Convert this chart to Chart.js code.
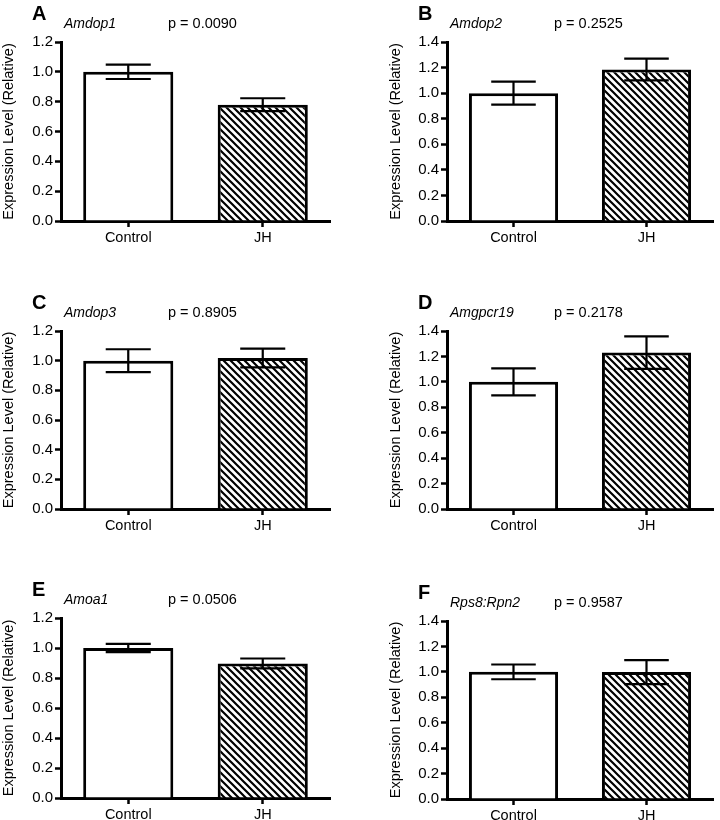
<!DOCTYPE html>
<html>
<head>
<meta charset="utf-8">
<script src="https://cdn.jsdelivr.net/npm/chart.js@4.4.1/dist/chart.umd.min.js"></script>
<style>
  body { margin: 0; background: #fff; overflow: hidden; }
  #wrap { position: relative; width: 720px; height: 820px; overflow: hidden; }
  canvas { position: absolute; }
</style>
</head>
<body>
<div id="wrap"></div>
<script>
const panelLetters = ['A', 'B', 'C', 'D', 'E', 'F'];
const geneNames = ['Amdop1', 'Amdop2', 'Amdop3', 'Amgpcr19', 'Amoa1', 'Rps8:Rpn2'];
const pValues = ['0.0090', '0.2525', '0.8905', '0.2178', '0.0506', '0.9587'];
const groups = ['Control', 'JH'];
const controlMeans = [1.00, 1.00, 1.00, 1.00, 1.00, 1.00];
const controlSem = [0.048, 0.090, 0.077, 0.106, 0.028, 0.058];
const jhMeans = [0.78, 1.185, 1.018, 1.23, 0.897, 0.998];
const jhSem = [0.043, 0.085, 0.063, 0.128, 0.033, 0.095];
const yMax = [1.2, 1.4, 1.2, 1.4, 1.2, 1.4];

// where each panel sits on the page (canvas box + plot area)
const boxes = [
    { left: 0,   top: 0,   h: 270, plotL: 61,  plotR: 330, plotT: 42,  plotB: 221, axisW: 61 },
    { left: 360, top: 0,   h: 270, plotL: 447, plotR: 713, plotT: 42,  plotB: 221, axisW: 60 },
    { left: 0,   top: 270, h: 275, plotL: 61,  plotR: 330, plotT: 331, plotB: 509, axisW: 61 },
    { left: 360, top: 270, h: 275, plotL: 447, plotR: 713, plotT: 331, plotB: 509, axisW: 60 },
    { left: 0,   top: 545, h: 285, plotL: 61,  plotR: 330, plotT: 618, plotB: 798, axisW: 61 },
    { left: 360, top: 545, h: 285, plotL: 447, plotR: 713, plotT: 621, plotB: 799, axisW: 60 }
];

const FONT = '"Liberation Sans", Arial, sans-serif';
const X_AXIS_H = 28;

function makeHatch() {
    const s = 7;
    const c = document.createElement('canvas');
    c.width = s; c.height = s;
    const g = c.getContext('2d');
    g.fillStyle = '#fff';
    g.fillRect(0, 0, s, s);
    g.strokeStyle = '#000';
    g.lineWidth = 2.2;
    g.beginPath();
    g.moveTo(-1, -1); g.lineTo(s + 1, s + 1);
    g.moveTo(-1, s - 1); g.lineTo(1, s + 1);
    g.moveTo(s - 1, -1); g.lineTo(s + 1, 1);
    g.stroke();
    return g.createPattern(c, 'repeat');
}
const hatch = makeHatch();

// SEM whiskers on top of each bar
const errorBars = {
    id: 'errorBars',
    afterDatasetsDraw(chart) {
        const ctx = chart.ctx;
        const yScale = chart.scales.y;
        ctx.save();
        ctx.strokeStyle = '#000';
        ctx.lineWidth = 2.2;
        chart.data.datasets.forEach((ds, di) => {
            chart.getDatasetMeta(di).data.forEach((bar, i) => {
                const m = ds.data[i], e = ds.errors[i];
                const yTop = yScale.getPixelForValue(m + e);
                const yBot = yScale.getPixelForValue(m - e);
                const half = bar.width / 4;
                ctx.beginPath();
                ctx.moveTo(bar.x, yTop); ctx.lineTo(bar.x, yBot);
                ctx.moveTo(bar.x - half, yTop); ctx.lineTo(bar.x + half, yTop);
                ctx.moveTo(bar.x - half, yBot); ctx.lineTo(bar.x + half, yBot);
                ctx.stroke();
            });
        });
        ctx.restore();
    }
};

// panel letter, gene name (italic) and p value above the plot
const headerText = {
    id: 'headerText',
    afterDraw(chart, args, opts) {
        const { ctx, chartArea } = chart;
        ctx.save();
        ctx.fillStyle = '#000';
        ctx.textBaseline = 'alphabetic';
        ctx.textAlign = 'left';
        ctx.font = 'bold 20px ' + FONT;
        ctx.fillText(opts.letter, chartArea.left - 29, chartArea.top - 22);
        ctx.font = 'italic 14px ' + FONT;
        ctx.fillText(opts.gene, chartArea.left + 3, chartArea.top - 14);
        ctx.font = '14.5px ' + FONT;
        ctx.fillText('p = ' + opts.p, chartArea.left + 107, chartArea.top - 14);
        ctx.restore();
    }
};

const wrap = document.getElementById('wrap');

panelLetters.forEach((letter, k) => {
    const b = boxes[k];
    const canvas = document.createElement('canvas');
    canvas.width = 360; canvas.height = b.h;
    canvas.style.left = b.left + 'px';
    canvas.style.top = b.top + 'px';
    canvas.style.width = '360px';
    canvas.style.height = b.h + 'px';
    wrap.appendChild(canvas);

    new Chart(canvas.getContext('2d'), {
        type: 'bar',
        data: {
            labels: groups,
            datasets: [{
                data: [controlMeans[k], jhMeans[k]],
                errors: [controlSem[k], jhSem[k]],
                backgroundColor: ['#fff', hatch],
                borderColor: '#000',
                borderWidth: 3,
                borderSkipped: 'bottom',
                barPercentage: 0.67,
                categoryPercentage: 1.0
            }]
        },
        options: {
            responsive: false,
            animation: false,
            events: [],
            layout: {
                padding: {
                    left: b.plotL - b.left - b.axisW,
                    right: b.left + 360 - b.plotR,
                    top: b.plotT - b.top,
                    bottom: b.top + b.h - b.plotB - X_AXIS_H
                }
            },
            scales: {
                x: {
                    afterFit: s => { s.height = X_AXIS_H; },
                    grid: { offset: false, drawOnChartArea: false, drawTicks: true, tickLength: 6, tickWidth: 2.5, tickColor: '#000' },
                    border: { color: '#000', width: 3 },
                    ticks: { color: '#000', padding: 2, font: { family: FONT, size: 14.5 } }
                },
                y: {
                    min: 0,
                    max: yMax[k],
                    afterFit: s => { s.width = b.axisW; },
                    grid: { drawOnChartArea: false, drawTicks: true, tickLength: 6, tickWidth: 2.5, tickColor: '#000' },
                    border: { color: '#000', width: 3 },
                    ticks: {
                        stepSize: 0.2,
                        color: '#000',
                        padding: 2,
                        font: { family: FONT, size: 15 },
                        callback: v => v.toFixed(1)
                    },
                    title: {
                        display: true,
                        text: 'Expression Level (Relative)',
                        color: '#000',
                        padding: { top: 0, bottom: 0 },
                        font: { family: FONT, size: 14.5 }
                    }
                }
            },
            plugins: {
                legend: { display: false },
                tooltip: { enabled: false },
                headerText: { letter: letter, gene: geneNames[k], p: pValues[k] }
            }
        },
        plugins: [errorBars, headerText]
    });
});
</script>
</body>
</html>
